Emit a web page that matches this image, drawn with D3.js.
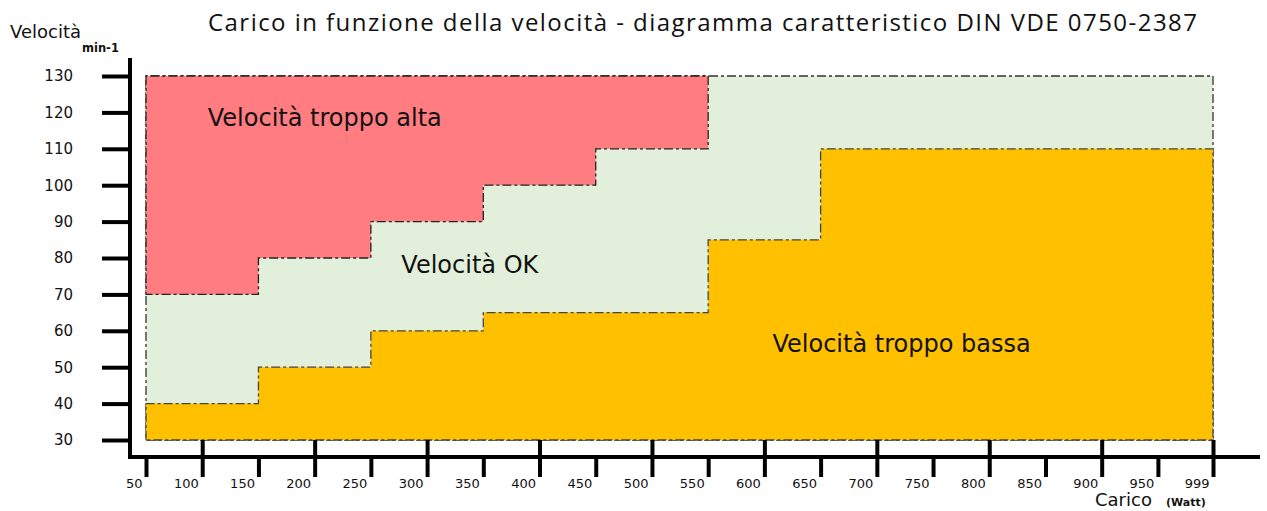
<!DOCTYPE html>
<html>
<head>
<meta charset="utf-8">
<script src="https://cdn.jsdelivr.net/npm/d3@7"></script>
<style>
  body { margin: 0; background: #fff; }
  svg { display: block; }
  .tick text { fill: #111; }
</style>
</head>
<body>
<div id="graph"></div>
<script>
// carico (Watt) tick values and velocita (min-1) tick values
let xTicks = [50, 100, 150, 200, 250, 300, 350, 400, 450, 500, 550, 600, 650, 700, 750, 800, 850, 900, 950, 999];
let xMajor = [100, 200, 300, 400, 500, 600, 700, 800, 900, 999];
let yTicks = [30, 40, 50, 60, 70, 80, 90, 100, 110, 120, 130];

// step limits: upper limit of the "troppo alta" zone from 50 to 550 W
let highSteps = [50, 150, 250, 350, 450, 550];
let highLimit = [70, 80, 90, 100, 110];
// lower limit of the "troppo bassa" zone from 50 to 999 W
let lowSteps = [50, 150, 250, 350, 550, 650, 999];
let lowLimit = [40, 50, 60, 65, 85, 110];

let width = 1267, height = 511;

let svg = d3.select("#graph").append("svg")
    .attr("width", width)
    .attr("height", height);

let x = d3.scaleLinear().domain([50, 999]).range([146, 1213]);
let y = d3.scaleLinear().domain([30, 130]).range([440, 76]);

let line = d3.line().x(d => x(d[0])).y(d => y(d[1]));

function stepPoints(steps, values) {
    let pts = [];
    values.forEach((v, i) => {
        pts.push([steps[i], v]);
        pts.push([steps[i + 1], v]);
    });
    return pts;
}

let dash = "9,3,3,3";

// ok zone = whole area
svg.append("path")
    .attr("d", line([[50, 30], [999, 30], [999, 130], [50, 130]]) + "Z")
    .attr("fill", "#e2efda")
    .attr("stroke", "#333")
    .attr("stroke-width", 1.3)
    .attr("stroke-dasharray", dash);

// troppo alta
let highPts = [[50, 130]].concat(stepPoints(highSteps, highLimit)).concat([[550, 130]]);
svg.append("path")
    .attr("d", line(highPts) + "Z")
    .attr("fill", "#ff7c80")
    .attr("stroke", "#222")
    .attr("stroke-width", 1.3)
    .attr("stroke-dasharray", dash);

// troppo bassa
let lowPts = [[50, 30]].concat(stepPoints(lowSteps, lowLimit)).concat([[999, 30]]);
svg.append("path")
    .attr("d", line(lowPts) + "Z")
    .attr("fill", "#ffc000")
    .attr("stroke", "#444")
    .attr("stroke-width", 1.3)
    .attr("stroke-dasharray", dash);

// y axis
let yAxis = svg.append("g")
    .attr("transform", "translate(130,0)")
    .call(d3.axisLeft(y).tickValues(yTicks).tickSize(28).tickPadding(30));
yAxis.select(".domain").remove();
yAxis.selectAll(".tick line").attr("stroke", "#000").attr("stroke-width", 4);
yAxis.selectAll(".tick text")
    .attr("x", -57)
    .style("font-family", "DejaVu Sans, sans-serif")
    .style("font-size", "15px");

svg.append("line")
    .attr("x1", 130).attr("x2", 130)
    .attr("y1", 58).attr("y2", 459)
    .attr("stroke", "#000").attr("stroke-width", 4);

// x axis
let xAxis = svg.append("g")
    .attr("transform", "translate(0,457)")
    .call(d3.axisBottom(x).tickValues(xTicks).tickSize(20).tickPadding(2));
xAxis.select(".domain").remove();
xAxis.selectAll(".tick line").attr("stroke", "#000").attr("stroke-width", 4);
xAxis.selectAll(".tick text")
    .attr("text-anchor", "end")
    .attr("dx", -4)
    .style("font-family", "DejaVu Sans, sans-serif")
    .style("font-size", "13px");
xAxis.selectAll(".tick")
    .filter(d => xMajor.includes(d))
    .append("line")
    .attr("y1", -17).attr("y2", 0)
    .attr("stroke", "#000").attr("stroke-width", 4);

svg.append("line")
    .attr("x1", 128).attr("x2", 1260)
    .attr("y1", 457).attr("y2", 457)
    .attr("stroke", "#000").attr("stroke-width", 4);

// title and labels
svg.append("text")
    .attr("x", 208).attr("y", 31)
    .attr("textLength", 989)
    .attr("lengthAdjust", "spacing")
    .style("font-family", "Open Sans, sans-serif")
    .style("font-size", "24px")
    .attr("fill", "#111")
    .text("Carico in funzione della velocità - diagramma caratteristico DIN VDE 0750-2387");

svg.append("text")
    .attr("x", 10).attr("y", 38)
    .style("font-family", "DejaVu Sans, sans-serif")
    .style("font-size", "18px")
    .attr("fill", "#111")
    .text("Velocità");
svg.append("text")
    .attr("x", 82).attr("y", 52)
    .style("font-family", "DejaVu Sans, sans-serif")
    .style("font-size", "11.5px")
    .style("font-weight", "bold")
    .attr("fill", "#111")
    .text("min-1");

svg.append("text")
    .attr("x", 1095).attr("y", 506)
    .style("font-family", "DejaVu Sans, sans-serif")
    .style("font-size", "18px")
    .attr("fill", "#111")
    .text("Carico");
svg.append("text")
    .attr("x", 1166).attr("y", 506)
    .style("font-family", "DejaVu Sans, sans-serif")
    .style("font-size", "11px")
    .style("font-weight", "bold")
    .attr("fill", "#111")
    .text("(Watt)");

let zoneLabels = [
    {text: "Velocità troppo alta", cx: 209, cy: 118.5},
    {text: "Velocità OK", cx: 338, cy: 78.1},
    {text: "Velocità troppo bassa", cx: 722, cy: 56.6}
];
svg.selectAll(".zone")
    .data(zoneLabels)
    .enter().append("text")
    .attr("class", "zone")
    .attr("x", d => x(d.cx))
    .attr("y", d => y(d.cy))
    .attr("dy", ".35em")
    .attr("text-anchor", "middle")
    .style("font-family", "DejaVu Sans, sans-serif")
    .style("font-size", "24px")
    .attr("fill", "#111")
    .text(d => d.text);
</script>
</body>
</html>
